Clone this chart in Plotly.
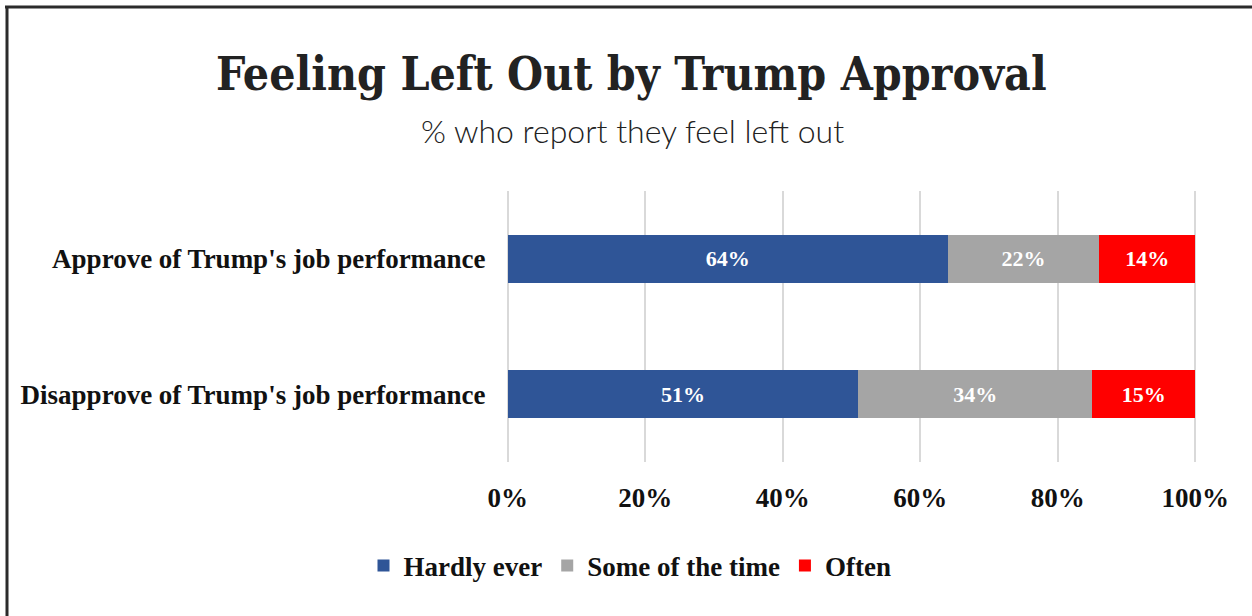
import plotly.graph_objects as go

# Survey groups (top to bottom) and the share in each response band
groups = ["Approve of Trump's job performance", "Disapprove of Trump's job performance"]
series_names = ["Hardly ever", "Some of the time", "Often"]
hardly_ever = [64, 51]
some_of_the_time = [22, 34]
often = [14, 15]
series_colors = ["#2F5597", "#A5A5A5", "#FF0000"]

tick_values = [0, 20, 40, 60, 80, 100]
tick_labels = ["0%", "20%", "40%", "60%", "80%", "100%"]

W, H = 1252, 616
L, R, T, B = 506, 55, 191, 154
plot_w = W - L - R
plot_h = H - T - B

serif_bold = "Liberation Serif, Times New Roman, serif"

fig = go.Figure()
for name, vals, color in zip(series_names, [hardly_ever, some_of_the_time, often], series_colors):
    fig.add_trace(go.Bar(
        name=name,
        y=groups,
        x=vals,
        orientation="h",
        marker=dict(color=color, line=dict(width=0)),
        width=0.355,
        text=[f"{v}%" for v in vals],
        textposition="inside",
        insidetextanchor="middle",
        textfont=dict(family=serif_bold, size=22, color="white", weight="bold"),
        hoverinfo="skip",
    ))

# Convert a page pixel position to paper coordinates
def px_x(px):
    return (px - L) / plot_w

def px_y(py):
    return (H - B - py) / plot_h

fig.update_layout(
    width=W,
    height=H,
    barmode="stack",
    uniformtext=dict(minsize=22, mode="show"),
    plot_bgcolor="white",
    paper_bgcolor="white",
    margin=dict(l=L, r=R, t=T, b=B, autoexpand=False),
    showlegend=True,
    legend=dict(
        orientation="h",
        x=px_x(630),
        xanchor="center",
        y=px_y(566),
        yanchor="middle",
        font=dict(family=serif_bold, size=27, color="#111111", weight="bold"),
        itemwidth=30,
        traceorder="normal",
    ),
    xaxis=dict(
        range=[-0.25, 100.25],
        tickvals=tick_values,
        ticktext=tick_labels,
        showgrid=True,
        gridcolor="#D9D9D9",
        gridwidth=1.5,
        zeroline=False,
        showline=False,
        ticks="outside",
        ticklen=12,
        tickcolor="rgba(0,0,0,0)",
        tickfont=dict(family=serif_bold, size=27, color="#111111", weight="bold"),
        fixedrange=True,
    ),
    yaxis=dict(
        categoryorder="array",
        categoryarray=groups[::-1],
        range=[-0.5, 1.5],
        showgrid=False,
        zeroline=False,
        showline=False,
        ticks="outside",
        ticklen=14,
        tickcolor="rgba(0,0,0,0)",
        tickfont=dict(family=serif_bold, size=27, color="#111111", weight="bold"),
        fixedrange=True,
    ),
    annotations=[
        dict(
            text="Feeling Left Out by Trump Approval",
            xref="paper", yref="paper",
            x=px_x(631), y=px_y(74),
            xanchor="center", yanchor="middle",
            showarrow=False,
            font=dict(family="DejaVu Serif Condensed, DejaVu Serif, serif", size=46, color="#222222", weight="bold"),
        ),
        dict(
            text="% who report they feel left out",
            xref="paper", yref="paper",
            x=px_x(632), y=px_y(130),
            xanchor="center", yanchor="middle",
            showarrow=False,
            font=dict(family="Lato, Open Sans, sans-serif", size=32, color="#222222", weight=300),
        ),
    ],
    shapes=[
        # frame: top rule and left rule
        dict(type="line", xref="paper", yref="paper",
             x0=px_x(5), x1=px_x(W + 5), y0=px_y(7), y1=px_y(7),
             line=dict(color="#2B2B2B", width=3)),
        dict(type="line", xref="paper", yref="paper",
             x0=px_x(7), x1=px_x(7), y0=px_y(6), y1=px_y(H + 5),
             line=dict(color="#2B2B2B", width=3)),
    ],
)

fig.write_html("out.html")
